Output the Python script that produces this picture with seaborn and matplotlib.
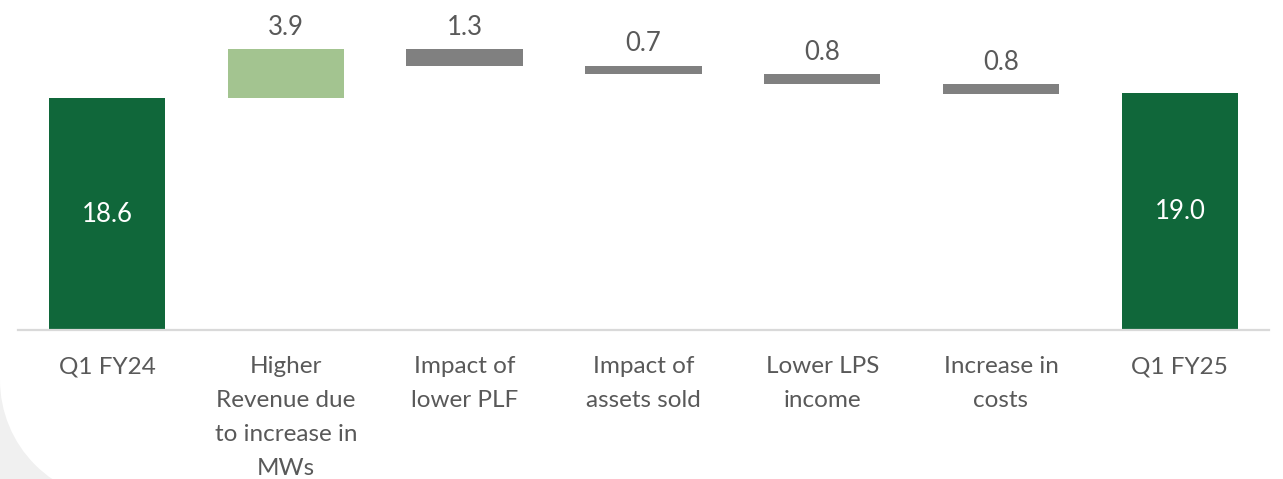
import numpy as np
import matplotlib
matplotlib.use("Agg")
import matplotlib.pyplot as plt
from matplotlib.patches import Rectangle, Circle
import seaborn as sns

# Bridge steps, in order
categories = [
    "Q1 FY24",
    "Higher\nRevenue due\nto increase in\nMWs",
    "Impact of\nlower PLF",
    "Impact of\nassets sold",
    "Lower LPS\nincome",
    "Increase in\ncosts",
    "Q1 FY25",
]
start_value = 18.6
changes = [3.9, -1.3, -0.7, -0.8, -0.8]
end_value = 19.0

DARK_GREEN = "#10673a"
LIGHT_GREEN = "#a3c490"
GREY_BAR = "#808080"
TEXT = "#595959"

# Waterfall geometry: each change floats on the running total
running = start_value + np.concatenate([[0.0], np.cumsum(changes)])
heights = [start_value] + [abs(c) for c in changes] + [end_value]
bottoms = [0.0] + [min(running[i], running[i + 1]) for i in range(len(changes))] + [0.0]
colors = [DARK_GREEN] + [LIGHT_GREEN if c > 0 else GREY_BAR for c in changes] + [DARK_GREEN]

sns.set_theme(style="white")
plt.rcParams["font.family"] = ["Lato", "DejaVu Sans"]

W, H = 1283, 479
fig = plt.figure(figsize=(W / 100, H / 100), dpi=100)
fig.patch.set_facecolor("white")

# Soft grey rounded corner of the slide panel, lower left
fig.patches.append(Rectangle((0, 0), 120, 99, transform=None, facecolor="#f0f0f0",
                             edgecolor="none", zorder=-3))
fig.patches.append(Circle((120, 99), 120, transform=None, facecolor="white",
                          edgecolor="none", zorder=-2))

ax = fig.add_axes([17.6 / W, 149 / H, 1251.6 / W, 330 / H])
ax.patch.set_visible(False)

sns.barplot(x=categories, y=heights, bottom=bottoms, color=GREY_BAR,
            width=0.65, errorbar=None, saturation=1, ax=ax)
for patch, c in zip(ax.patches, colors):
    patch.set_facecolor(c)
    patch.set_edgecolor("none")

ax.set_xlim(-0.5, len(categories) - 0.5)
ax.set_ylim(0, 330 / 12.47)

for s in ["top", "right", "left"]:
    ax.spines[s].set_visible(False)
ax.spines["bottom"].set_color("#d9d9d9")
ax.spines["bottom"].set_linewidth(1.6)
ax.set_yticks([])
ax.set_xlabel("")
ax.set_ylabel("")
ax.tick_params(axis="x", length=0, pad=19, colors=TEXT, labelsize=17.5)
for lbl in ax.get_xticklabels():
    lbl.set_linespacing(1.75)

# Totals labelled inside, changes labelled above
label_size = 18.5
ax.text(0, start_value / 2, f"{start_value:.1f}", ha="center", va="center",
        color="white", fontsize=label_size)
ax.text(len(categories) - 1, end_value / 2, f"{end_value:.1f}", ha="center",
        va="center", color="white", fontsize=label_size)
for i, c in enumerate(changes, start=1):
    top = bottoms[i] + heights[i]
    ax.annotate(f"{abs(c):.1f}", xy=(i, top), xytext=(0, 16),
                textcoords="offset points", ha="center", va="center",
                color=TEXT, fontsize=label_size)

fig.savefig("out.png", dpi=100)
